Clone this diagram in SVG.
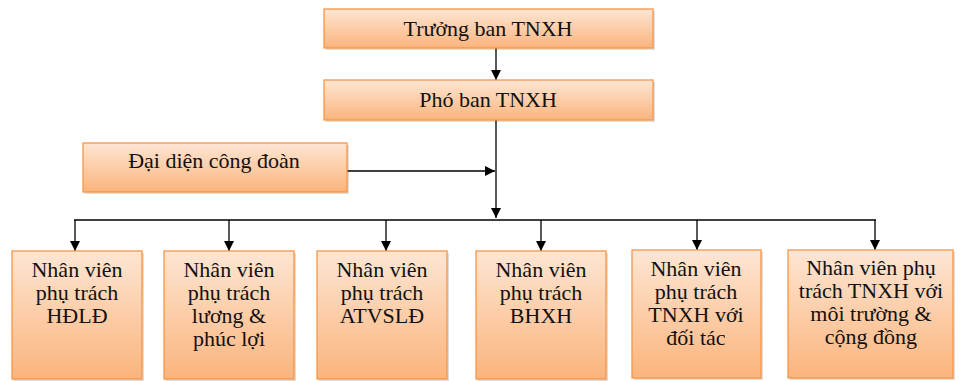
<svg xmlns="http://www.w3.org/2000/svg" width="961" height="381" viewBox="0 0 961 381">
  <defs>
    <linearGradient id="fillOrange" x1="0" y1="0" x2="0" y2="1">
      <stop offset="0" stop-color="#fde6d4"/>
      <stop offset="1" stop-color="#fbb47c"/>
    </linearGradient>
    <marker id="arrow" viewBox="0 0 10 10" refX="10" refY="5" markerWidth="10" markerHeight="10" markerUnits="userSpaceOnUse" orient="auto">
      <path d="M0,0 L10,5 L0,10 Z" fill="#000"/>
    </marker>
  </defs>
  <rect width="961" height="381" fill="#fff"/>

  <!-- soft offset shadows under the boxes -->
  <g id="shadows" fill="#000" fill-opacity="0.13">
    <rect x="326" y="11" width="329" height="39"/>
    <rect x="326" y="82" width="329" height="40"/>
    <rect x="85" y="145" width="264" height="49"/>
    <rect x="14" y="253" width="130" height="128"/>
    <rect x="166" y="253" width="130" height="128"/>
    <rect x="319" y="253" width="130" height="128"/>
    <rect x="478" y="253" width="130" height="128"/>
    <rect x="634" y="252" width="129" height="128"/>
    <rect x="790" y="252" width="165" height="128"/>
  </g>

  <g id="connectors" stroke="#000" stroke-width="1.3" fill="none">
    <line x1="496" y1="48" x2="496" y2="80" marker-end="url(#arrow)"/>
    <line x1="496" y1="120" x2="496" y2="218" marker-end="url(#arrow)"/>
    <line x1="347" y1="171" x2="495" y2="171" marker-end="url(#arrow)"/>
    <line x1="74" y1="220" x2="876" y2="220"/>
    <line x1="75" y1="220" x2="75" y2="251" marker-end="url(#arrow)"/>
    <line x1="229" y1="220" x2="229" y2="251" marker-end="url(#arrow)"/>
    <line x1="386" y1="220" x2="386" y2="251" marker-end="url(#arrow)"/>
    <line x1="541" y1="220" x2="541" y2="251" marker-end="url(#arrow)"/>
    <line x1="697" y1="220" x2="697" y2="250" marker-end="url(#arrow)"/>
    <line x1="875" y1="220" x2="875" y2="250" marker-end="url(#arrow)"/>
  </g>

  <g id="truong-ban">
    <rect x="324" y="9" width="329" height="39" fill="url(#fillOrange)" stroke="#f79646" stroke-width="1.3"/>
    <text x="488" y="36" font-family="Liberation Serif, Times New Roman, serif" font-size="22" fill="#111" text-anchor="middle">Trưởng ban TNXH</text>
  </g>
  <g id="pho-ban">
    <rect x="324" y="80" width="329" height="40" fill="url(#fillOrange)" stroke="#f79646" stroke-width="1.3"/>
    <text x="488" y="107" font-family="Liberation Serif, Times New Roman, serif" font-size="22" fill="#111" text-anchor="middle">Phó ban TNXH</text>
  </g>
  <g id="dai-dien-cong-doan">
    <rect x="83" y="143" width="264" height="49" fill="url(#fillOrange)" stroke="#f79646" stroke-width="1.3"/>
    <text x="214" y="168" font-family="Liberation Serif, Times New Roman, serif" font-size="22" fill="#111" text-anchor="middle">Đại diện công đoàn</text>
  </g>
  <g id="nv-hdld">
    <rect x="12" y="251" width="130" height="128" fill="url(#fillOrange)" stroke="#f79646" stroke-width="1.3"/>
    <text x="77" y="277" font-family="Liberation Serif, Times New Roman, serif" font-size="22" fill="#111" text-anchor="middle">Nhân viên</text>
    <text x="77" y="300" font-family="Liberation Serif, Times New Roman, serif" font-size="22" fill="#111" text-anchor="middle">phụ trách</text>
    <text x="77" y="323" font-family="Liberation Serif, Times New Roman, serif" font-size="22" fill="#111" text-anchor="middle">HĐLĐ</text>
  </g>
  <g id="nv-luong-phuc-loi">
    <rect x="164" y="251" width="130" height="128" fill="url(#fillOrange)" stroke="#f79646" stroke-width="1.3"/>
    <text x="229" y="277" font-family="Liberation Serif, Times New Roman, serif" font-size="22" fill="#111" text-anchor="middle">Nhân viên</text>
    <text x="229" y="300" font-family="Liberation Serif, Times New Roman, serif" font-size="22" fill="#111" text-anchor="middle">phụ trách</text>
    <text x="229" y="323" font-family="Liberation Serif, Times New Roman, serif" font-size="22" fill="#111" text-anchor="middle">lương &amp;</text>
    <text x="229" y="346" font-family="Liberation Serif, Times New Roman, serif" font-size="22" fill="#111" text-anchor="middle">phúc lợi</text>
  </g>
  <g id="nv-atvsld">
    <rect x="317" y="251" width="130" height="128" fill="url(#fillOrange)" stroke="#f79646" stroke-width="1.3"/>
    <text x="382" y="277" font-family="Liberation Serif, Times New Roman, serif" font-size="22" fill="#111" text-anchor="middle">Nhân viên</text>
    <text x="382" y="300" font-family="Liberation Serif, Times New Roman, serif" font-size="22" fill="#111" text-anchor="middle">phụ trách</text>
    <text x="382" y="323" font-family="Liberation Serif, Times New Roman, serif" font-size="22" fill="#111" text-anchor="middle">ATVSLĐ</text>
  </g>
  <g id="nv-bhxh">
    <rect x="476" y="251" width="130" height="128" fill="url(#fillOrange)" stroke="#f79646" stroke-width="1.3"/>
    <text x="541" y="277" font-family="Liberation Serif, Times New Roman, serif" font-size="22" fill="#111" text-anchor="middle">Nhân viên</text>
    <text x="541" y="300" font-family="Liberation Serif, Times New Roman, serif" font-size="22" fill="#111" text-anchor="middle">phụ trách</text>
    <text x="541" y="323" font-family="Liberation Serif, Times New Roman, serif" font-size="22" fill="#111" text-anchor="middle">BHXH</text>
  </g>
  <g id="nv-doi-tac">
    <rect x="632" y="250" width="129" height="128" fill="url(#fillOrange)" stroke="#f79646" stroke-width="1.3"/>
    <text x="696" y="276" font-family="Liberation Serif, Times New Roman, serif" font-size="22" fill="#111" text-anchor="middle">Nhân viên</text>
    <text x="696" y="299" font-family="Liberation Serif, Times New Roman, serif" font-size="22" fill="#111" text-anchor="middle">phụ trách</text>
    <text x="696" y="322" font-family="Liberation Serif, Times New Roman, serif" font-size="22" fill="#111" text-anchor="middle">TNXH với</text>
    <text x="696" y="345" font-family="Liberation Serif, Times New Roman, serif" font-size="22" fill="#111" text-anchor="middle">đối tác</text>
  </g>
  <g id="nv-moi-truong-cong-dong">
    <rect x="788" y="250" width="165" height="128" fill="url(#fillOrange)" stroke="#f79646" stroke-width="1.3"/>
    <text x="871" y="275" font-family="Liberation Serif, Times New Roman, serif" font-size="22" fill="#111" text-anchor="middle">Nhân viên phụ</text>
    <text x="871" y="298" font-family="Liberation Serif, Times New Roman, serif" font-size="22" fill="#111" text-anchor="middle">trách TNXH với</text>
    <text x="871" y="321" font-family="Liberation Serif, Times New Roman, serif" font-size="22" fill="#111" text-anchor="middle">môi trường &amp;</text>
    <text x="871" y="344" font-family="Liberation Serif, Times New Roman, serif" font-size="22" fill="#111" text-anchor="middle">cộng đồng</text>
  </g>
</svg>
